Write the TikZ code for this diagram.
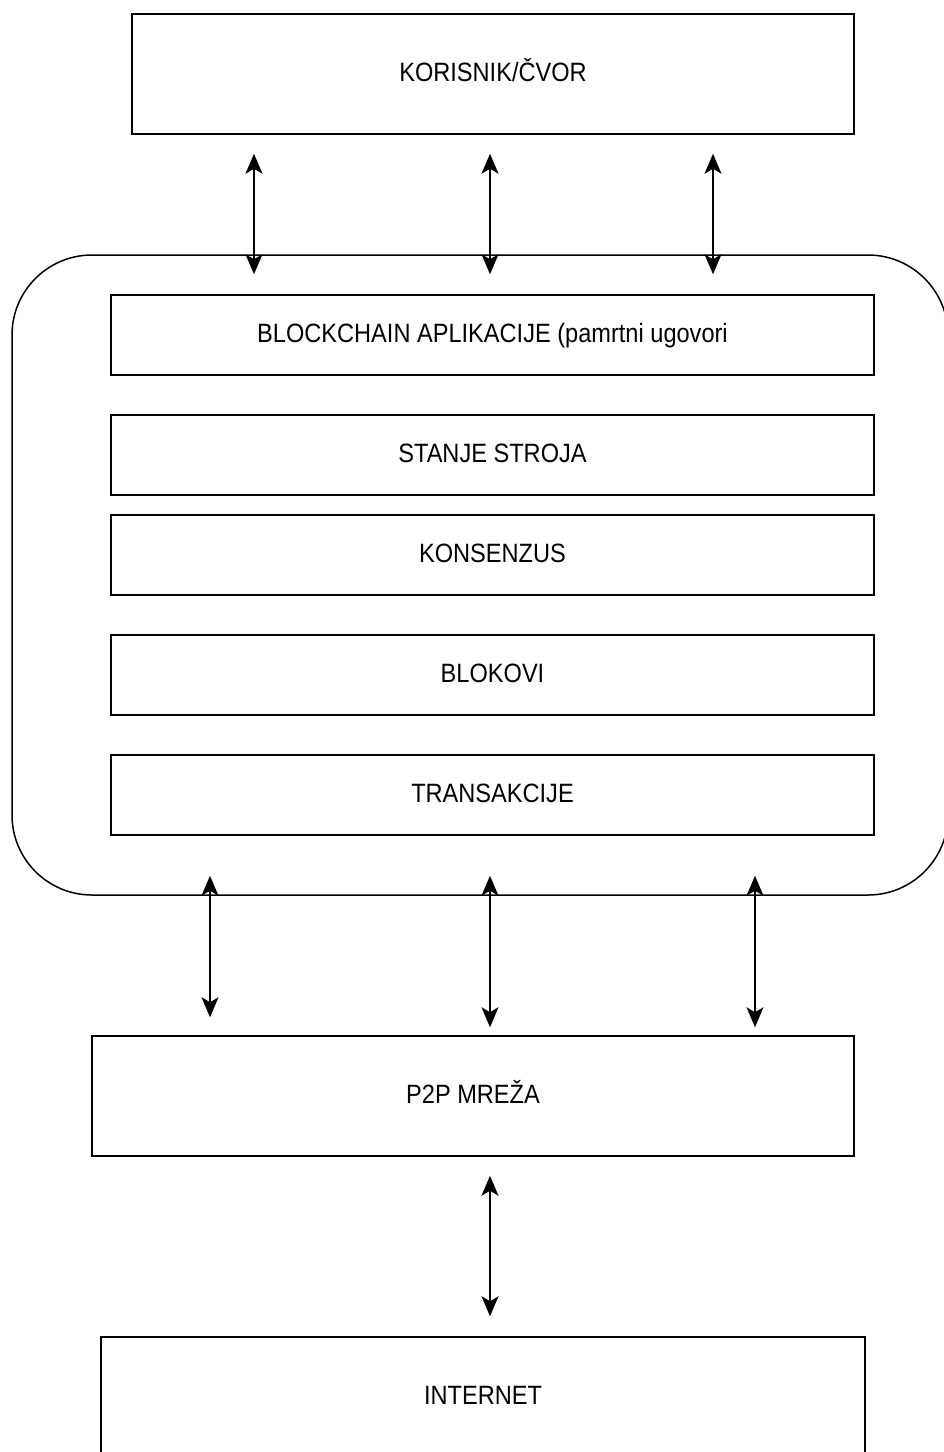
\documentclass[tikz,border=0pt]{standalone}
\usepackage{fontspec}
\setmainfont{Liberation Sans}[FakeStretch=0.89]
\usetikzlibrary{arrows.meta}

\begin{document}
\begin{tikzpicture}[x=1pt, y=-1pt, line width=1.5pt,
                    font=\fontsize{26.5}{30}\selectfont,
                    every node/.style={text height=19pt, text depth=5pt},
                    main box/.style={rectangle,draw,inner sep=0pt,minimum width=722pt,minimum height=120pt},
                    layer box/.style={rectangle,draw,inner sep=0pt,minimum width=763pt,minimum height=80pt},
                    tip/.tip={Stealth[length=20pt,width=17pt,inset=5pt]},
                    arr/.style={tip-tip}]

  \useasboundingbox (0,0) rectangle (944,1452);
  \clip (0,0) rectangle (944,1452);

  \node[main box] (user) at (493,74) {KORISNIK/ČVOR};

  \node[rectangle,draw,rounded corners=80pt,minimum width=936pt,minimum height=640pt] (stack) at (480,575) {};

  \node[layer box] (apps) at (492.5,335) {BLOCKCHAIN APLIKACIJE (pamrtni ugovori};
  \node[layer box] (state) at (492.5,455) {STANJE STROJA};
  \node[layer box] (cons) at (492.5,555) {KONSENZUS};
  \node[layer box] (blocks) at (492.5,675) {BLOKOVI};
  \node[layer box] (txs) at (492.5,795) {TRANSAKCIJE};

  \node[main box, minimum width=762pt] (p2p) at (473,1096) {P2P MREŽA};
  \node[main box, minimum width=764pt] (net) at (483,1397) {INTERNET};

  \path[arr, shorten <=19pt, shorten >=-20pt]

    (user.south -| 254,0) edge (stack.north -| 254,0)

    (user.south -| 490,0) edge (stack.north -| 490,0)

    (user.south -| 713,0) edge (stack.north -| 713,0) ;

  \path[arr, shorten <=-20pt]

    (stack.south -| 210,0) edge [shorten >=18pt] (p2p.north -| 210,0)

    (stack.south -| 490,0) edge [shorten >=8pt] (p2p.north -| 490,0)

    (stack.south -| 755,0) edge [shorten >=8pt] (p2p.north -| 755,0) ;

  \draw[arr, shorten <=19pt, shorten >=20pt] (p2p.south -| 490,0) -- (net.north -| 490,0);

\end{tikzpicture}
\end{document}
